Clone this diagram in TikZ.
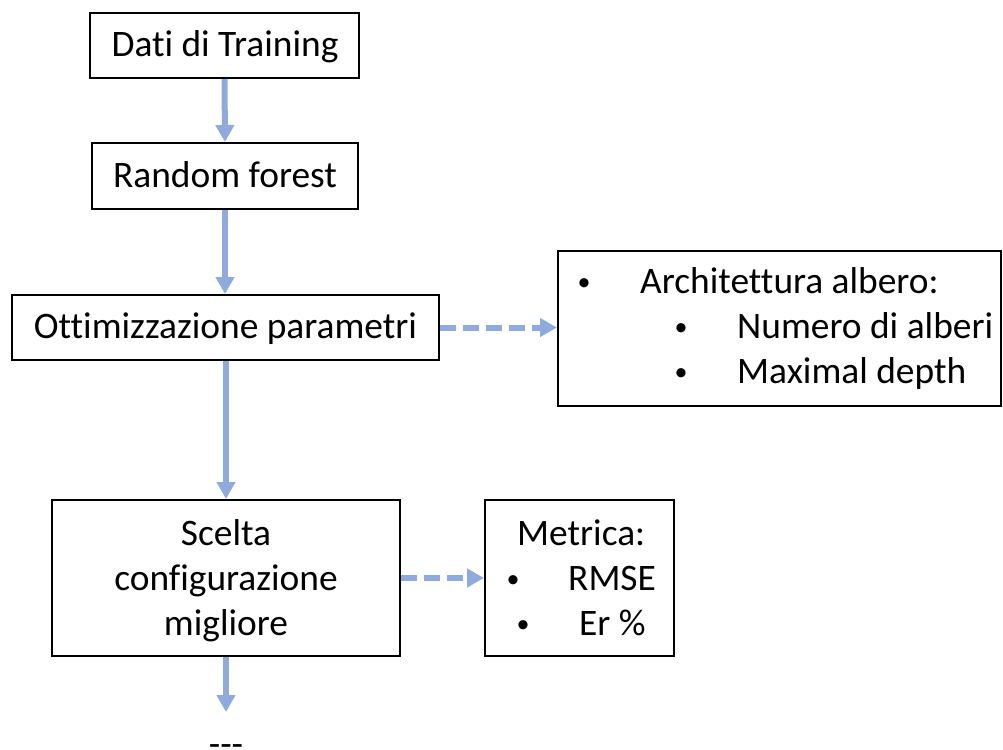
\documentclass[tikz,border=0pt]{standalone}
\usepackage{fontspec}
\setmainfont[Ligatures=NoCommon]{Carlito}
\usetikzlibrary{arrows.meta}
\definecolor{flowblue}{HTML}{8FAADC}
\newcommand{\bul}{{\fontsize{26}{30}\selectfont •}}
\begin{document}
\begin{tikzpicture}[x=1pt,y=-1pt,
  box/.style={draw=black,line width=2pt,fill=white,rectangle,inner sep=0pt},
  txt/.style={inner sep=0pt,font=\fontsize{37.4}{45}\selectfont,text=black},
  flow/.style={draw=flowblue,line width=6pt,-{Triangle[width=18pt,length=17pt]}},
  dflow/.style={flow,dash pattern=on 16pt off 7pt}
]
\useasboundingbox (0,0) rectangle (1003,749);

% main column of boxes
\node[box,minimum width=269pt,minimum height=65pt] (train) at (224.5,45.5) {};
\node[txt,anchor=base] (traintxt) at (225,56.5) {Dati di Training};

\node[box,minimum width=266pt,minimum height=66pt] (rf) at (225,176) {};
\node[txt,anchor=base] (rftxt) at (225,187) {Random forest};

\node[box,minimum width=427pt,minimum height=65pt] (opt) at (225.5,327.5) {};
\node[txt,anchor=base] (opttxt) at (225.5,338) {Ottimizzazione parametri};

\node[box,minimum width=348pt,minimum height=156pt] (best) at (226,578) {};
\node[txt,anchor=base] (besta) at (226,545) {Scelta};
\node[txt,anchor=base] (bestb) at (226,590) {configurazione};
\node[txt,anchor=base] (bestc) at (226,635) {migliore};

\node[txt,anchor=base] (more) at (226,756) {-{}-{}-};

% side boxes
\node[box,minimum width=443pt,minimum height=155pt] (arch) at (779.5,328) {};
\node[txt,anchor=base] (archb1) at (584,290) {\bul};
\node[txt,anchor=base west] (archt1) at (640,293) {Architettura albero:};
\node[txt,anchor=base] (archb2) at (681,335) {\bul};
\node[txt,anchor=base west] (archt2) at (737,338) {Numero di alberi};
\node[txt,anchor=base] (archb3) at (681,380) {\bul};
\node[txt,anchor=base west] (archt3) at (737,383) {Maximal depth};

\node[box,minimum width=189pt,minimum height=156pt] (met) at (579.5,578) {};
\node[txt,anchor=base west] (mett) at (517,545) {Metrica:};
\node[txt,anchor=base] (metb1) at (513,587) {\bul};
\node[txt,anchor=base west] (mett1) at (568,590) {RMSE};
\node[txt,anchor=base] (metb2) at (523,632) {\bul};
\node[txt,anchor=base west] (mett2) at (579,635) {Er \%};

% connectors
\coordinate (moretip) at (226,712);
\draw[flow] (train.south) -- (rf.north);
\draw[flow] (rf.south) -- (rf.south |- opt.north);
\draw[flow] (opt.south -| best.north) -- (best.north);
\draw[flow] (best.south) -- (moretip);
\draw[dflow] (opt.east) -- (opt.east -| arch.west);
\draw[dflow] (best.east) -- (met.west);
\end{tikzpicture}
\end{document}
